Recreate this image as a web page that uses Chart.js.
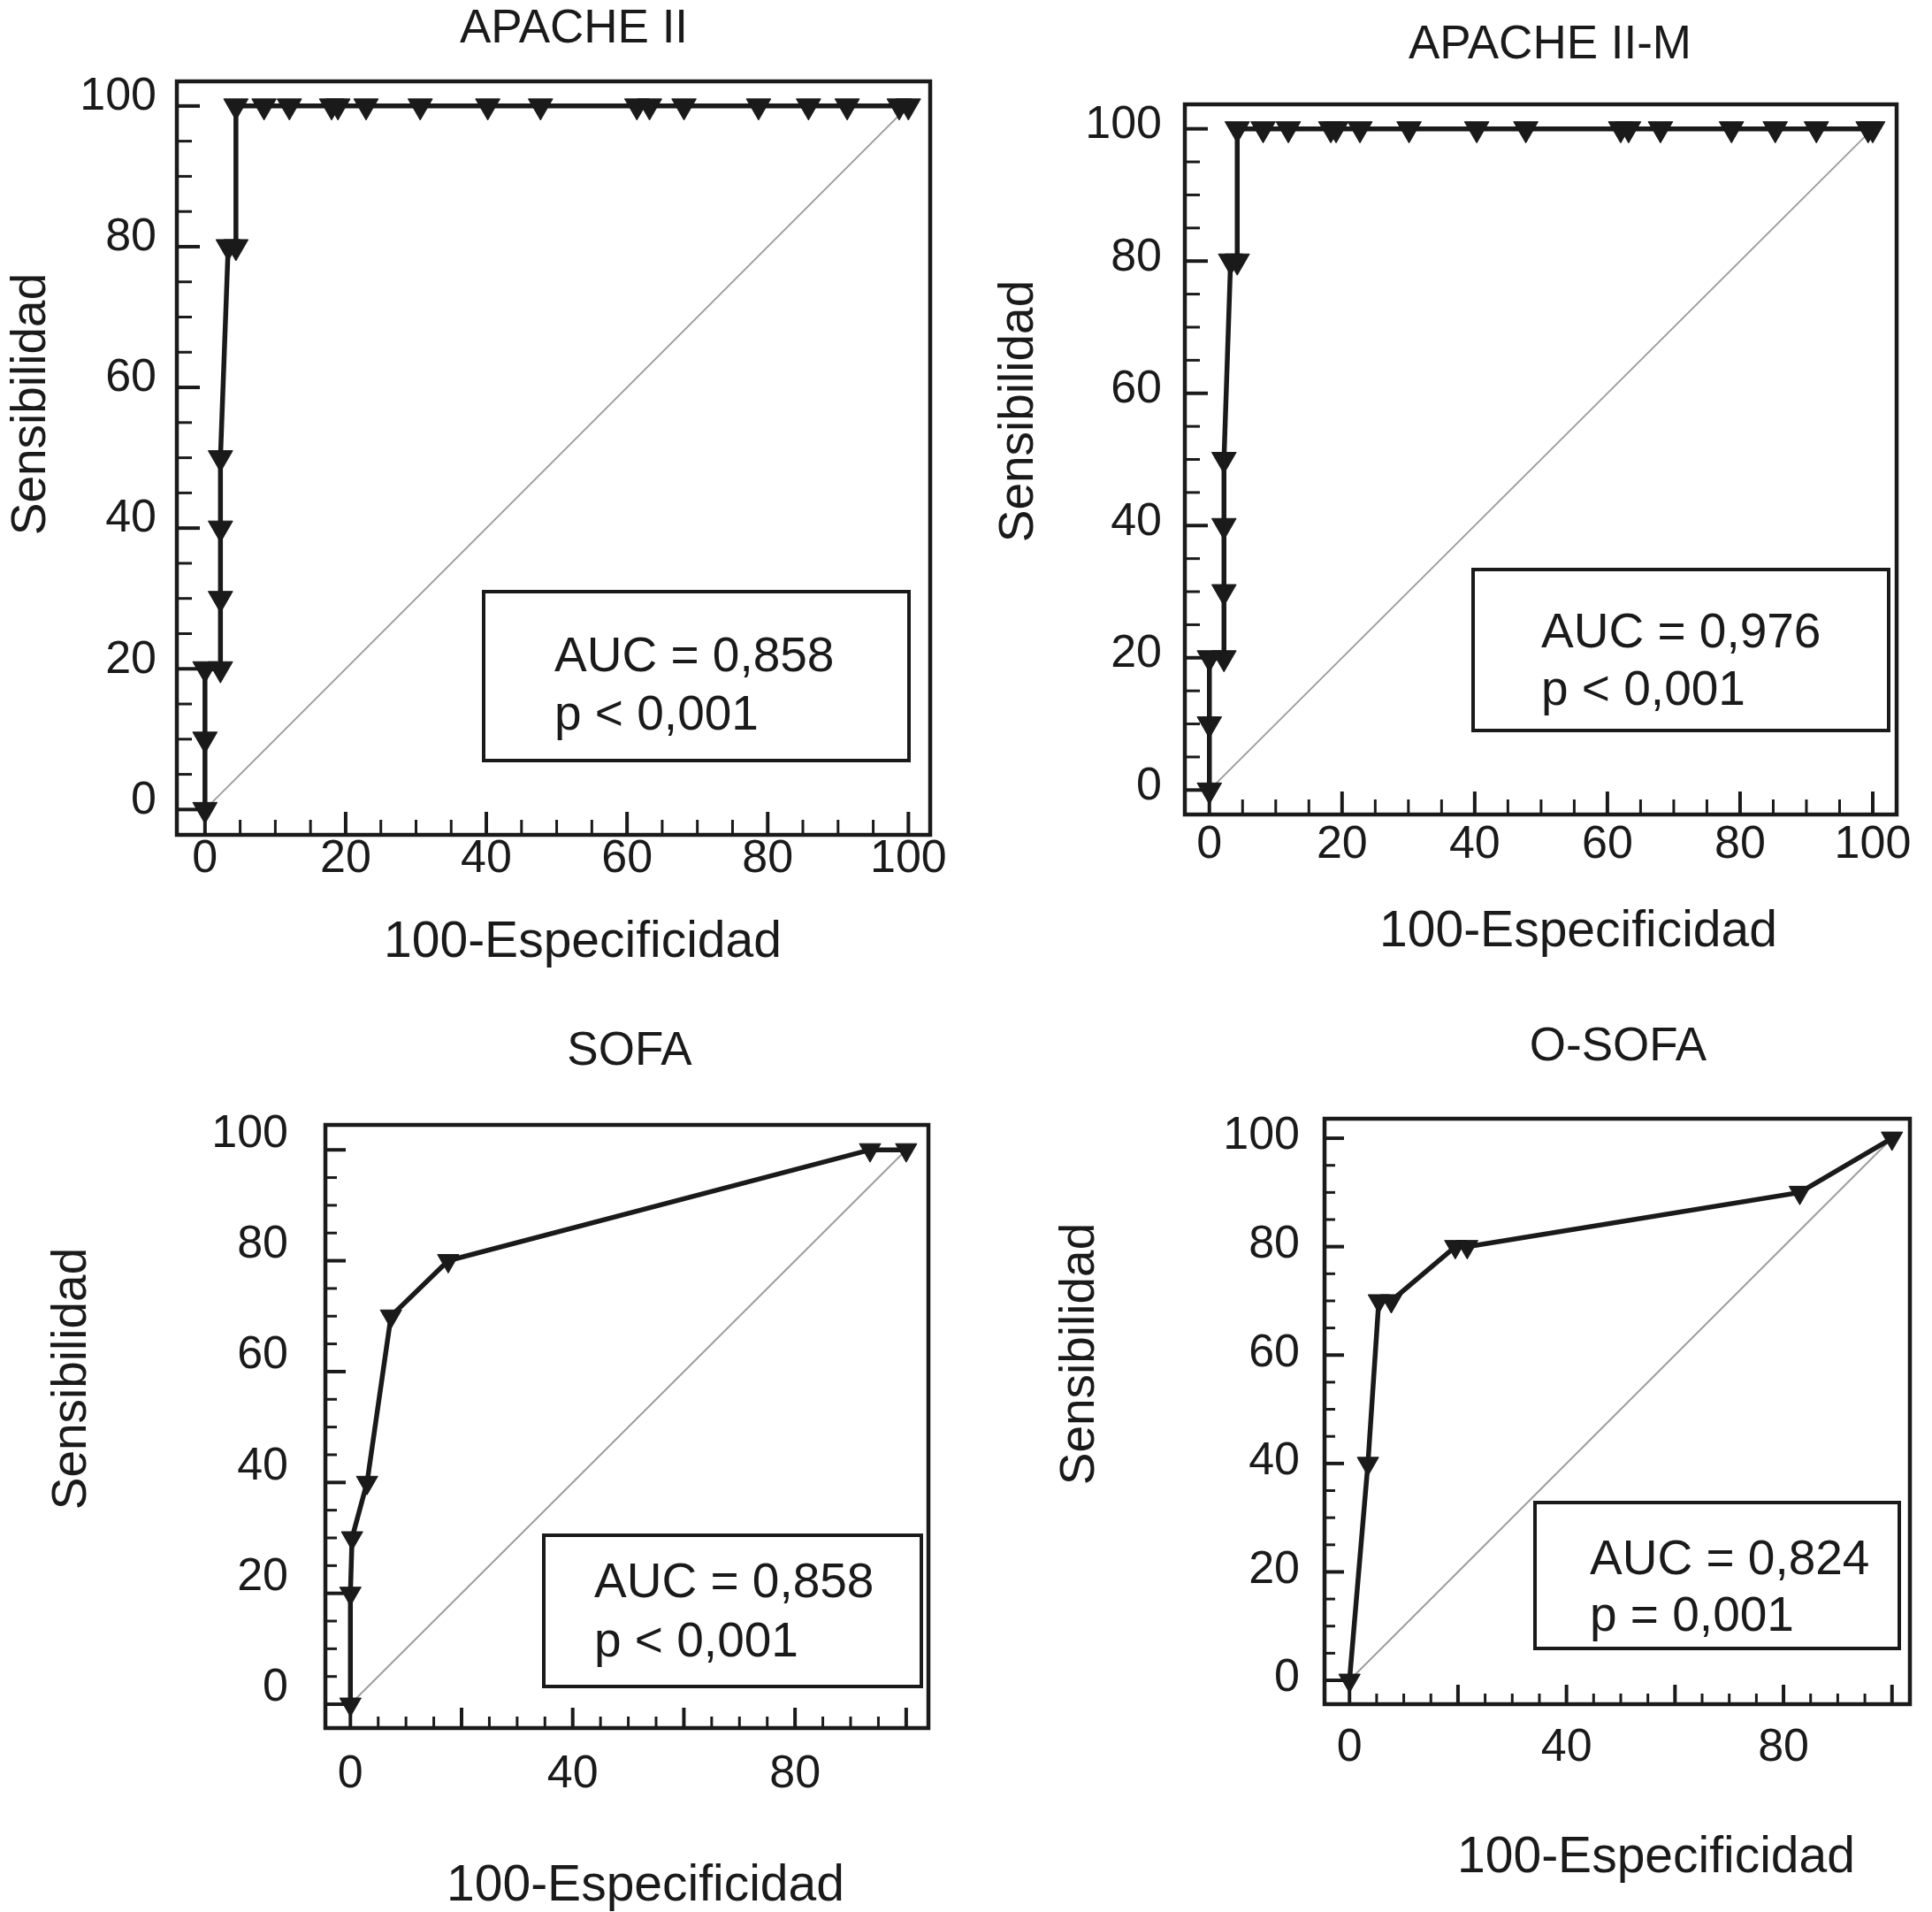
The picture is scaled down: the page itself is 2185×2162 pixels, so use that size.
<!DOCTYPE html>
<html>
<head>
<meta charset="utf-8">
<script src="https://cdn.jsdelivr.net/npm/chart.js@4.4.1/dist/chart.umd.min.js"></script>
<style>
  html, body { margin: 0; padding: 0; background: #fff; overflow: hidden; }
  body { width: 2185px; height: 2162px; position: relative; }
  canvas { position: absolute; }
</style>
</head>
<body>
<canvas id="apache"></canvas>
<canvas id="apacheM"></canvas>
<canvas id="sofa"></canvas>
<canvas id="osofa"></canvas>
<script>
// ---- data ----
const apacheX  = [0, 0, 0, 2.2, 2.2, 2.2, 2.2, 3.3, 4.4, 4.4, 8.4, 12, 18, 18.9, 22.9, 30.6, 40.2, 47.7, 61.4, 63.2, 68.1, 78.7, 85.8, 91.3, 98.7, 100];
const apacheY  = [0, 10, 20, 20, 30, 40, 50, 80, 80, 100, 100, 100, 100, 100, 100, 100, 100, 100, 100, 100, 100, 100, 100, 100, 100, 100];
const apacheMX = [0, 0, 0, 2.2, 2.2, 2.2, 2.2, 3.2, 4.2, 4.2, 8.1, 11.9, 18.3, 19.1, 22.7, 30.1, 40.3, 47.7, 62, 63.2, 68, 78.7, 85.3, 91.5, 99.3, 100];
const apacheMY = [0, 10, 20, 20, 30, 40, 50, 80, 80, 100, 100, 100, 100, 100, 100, 100, 100, 100, 100, 100, 100, 100, 100, 100, 100, 100];
const sofaX  = [0, 0, 0.3, 3, 7.3, 17.6, 93.5, 100];
const sofaY  = [0, 20, 30, 40, 70, 80, 100, 100];
const osofaX = [0, 3.4, 5.4, 7.7, 19.5, 21.7, 83, 100];
const osofaY = [0, 40, 70, 70, 80, 80, 90, 100];
const chanceLine = [0, 100];

const yTicks = [0, 20, 40, 60, 80, 100];
const xTicksFull = [0, 20, 40, 60, 80, 100];
const xTicksSparse = [0, 40, 80];

const titles = ['APACHE II', 'APACHE II-M', 'SOFA', 'O-SOFA'];
const aucLines = ['AUC = 0,858', 'AUC = 0,976', 'AUC = 0,858', 'AUC = 0,824'];
const pLines = ['p < 0,001', 'p < 0,001', 'p < 0,001', 'p = 0,001'];
const xTitle = '100-Especificidad';
const yTitle = 'Sensibilidad';

const ink = '#1a1a1a';
const FONT = "'Liberation Sans', Arial, Helvetica, sans-serif";

// layout of each panel in page pixels
const panels = [
  { id: 'apache', xs: apacheX, ys: apacheY, xt: xTicksFull,
    box: [0, 0, 1092, 1100], frame: [200, 92, 1052, 944], xr: [-4.0, 103.1], yr: [-3.6, 103.5],
    yPad: 23, xPad: 2, yOff: -10, tick: [26, 17], r: 16,
    title: [649, 29], yt: [31, 457], xtt: [659, 1062],
    auc: [547, 669, 1028, 860], txt: [627, 759, 825] },
  { id: 'apacheM', xs: apacheMX, ys: apacheMY, xt: xTicksFull,
    box: [1092, 0, 1093, 1100], frame: [1340, 118, 2145, 921], xr: [-3.7, 103.6], yr: [-3.7, 103.7],
    yPad: 26, xPad: 9, yOff: -4, tick: [26, 17], r: 16,
    title: [1753, 47], yt: [1148, 465], xtt: [1785, 1050],
    auc: [1666, 644, 2136, 826], txt: [1743, 732, 797] },
  { id: 'sofa', xs: sofaX, ys: sofaY, xt: xTicksSparse,
    box: [0, 1100, 1092, 1062], frame: [368, 1272, 1050, 1954], xr: [-4.5, 104], yr: [-4.3, 104.5],
    yPad: 42, xPad: 27, yOff: -18, tick: [23, 13], r: 14,
    title: [712, 1185], yt: [77, 1559], xtt: [730, 2129],
    auc: [615, 1736, 1042, 1907], txt: [672, 1806, 1873] },
  { id: 'osofa', xs: osofaX, ys: osofaY, xt: xTicksSparse,
    box: [1092, 1100, 1093, 1062], frame: [1498, 1265, 2160, 1927], xr: [-4.6, 103.3], yr: [-4.4, 103.6],
    yPad: 28, xPad: 24, yOff: -2, tick: [22, 12], r: 14,
    title: [1830, 1180], yt: [1217, 1531], xtt: [1873, 2097],
    auc: [1736, 1699, 2148, 1864], txt: [1798, 1780, 1844] }
];

function line(ctx, x1, y1, x2, y2) {
  ctx.beginPath();
  ctx.moveTo(x1, y1);
  ctx.lineTo(x2, y2);
  ctx.stroke();
}

function makePanel(p, i) {
  const [cl, ct, cw, ch] = p.box;
  const [fl, ft, fr, fb] = p.frame;
  const canvas = document.getElementById(p.id);
  canvas.width = cw;
  canvas.height = ch;
  canvas.style.left = cl + 'px';
  canvas.style.top = ct + 'px';

  const curve = p.xs.map((x, k) => ({ x: x, y: p.ys[k] }));
  const diag = chanceLine.map(v => ({ x: v, y: v }));

  // frame, inward ticks, titles and the AUC box
  const decor = {
    id: 'decor' + i,
    beforeDatasetsDraw(chart) {
      const { ctx, chartArea: a, scales: { x, y } } = chart;
      ctx.save();
      ctx.strokeStyle = ink;
      for (let v = 0; v <= 100; v += 5) {
        const major = v % 20 === 0;
        const len = major ? p.tick[0] : p.tick[1];
        ctx.lineWidth = major ? 4 : 3;
        const px = x.getPixelForValue(v);
        line(ctx, px, a.bottom, px, a.bottom - len);
        const py = y.getPixelForValue(v);
        line(ctx, a.left, py, a.left + len, py);
      }
      ctx.lineWidth = 4.5;
      ctx.strokeRect(a.left, a.top, a.width, a.height);
      ctx.restore();
    },
    afterDraw(chart) {
      const ctx = chart.ctx;
      ctx.save();
      ctx.fillStyle = ink;
      ctx.strokeStyle = ink;
      ctx.textBaseline = 'alphabetic';

      ctx.textAlign = 'center';
      ctx.font = '53px ' + FONT;
      ctx.fillText(titles[i], p.title[0] - cl, p.title[1] - ct + 19);

      ctx.font = '57px ' + FONT;
      ctx.fillText(xTitle, p.xtt[0] - cl, p.xtt[1] - ct + 20);

      ctx.save();
      ctx.font = '55px ' + FONT;
      ctx.translate(p.yt[0] - cl + 20, p.yt[1] - ct);
      ctx.rotate(-Math.PI / 2);
      ctx.fillText(yTitle, 0, 0);
      ctx.restore();

      const [bl, bt, br, bb] = p.auc;
      ctx.lineWidth = 4;
      ctx.strokeRect(bl - cl, bt - ct, br - bl, bb - bt);
      ctx.textAlign = 'left';
      ctx.font = '55px ' + FONT;
      ctx.fillText(aucLines[i], p.txt[0] - cl, p.txt[1] - ct);
      ctx.fillText(pLines[i], p.txt[0] - cl, p.txt[2] - ct);
      ctx.restore();
    }
  };

  const tickFont = { family: FONT, size: 52, lineHeight: 1 };

  new Chart(canvas.getContext('2d'), {
    type: 'scatter',
    data: {
      datasets: [
        {
          data: curve,
          showLine: true,
          borderColor: ink,
          borderWidth: 5.5,
          backgroundColor: ink,
          pointStyle: 'triangle',
          rotation: 180,
          pointRadius: p.r,
          pointBorderWidth: 1,
          pointBorderColor: ink,
          pointBackgroundColor: ink,
          clip: false
        },
        {
          data: diag,
          showLine: true,
          borderColor: '#9e9e9e',
          borderWidth: 2,
          pointRadius: 0
        }
      ]
    },
    options: {
      responsive: false,
      animation: false,
      events: [],
      layout: { padding: { left: 0, top: ft - ct, right: cl + cw - fr, bottom: 0 } },
      plugins: { legend: { display: false }, tooltip: { enabled: false } },
      scales: {
        x: {
          type: 'linear',
          min: p.xr[0], max: p.xr[1],
          grid: { display: false, drawTicks: false },
          border: { display: false },
          afterBuildTicks: s => { s.ticks = p.xt.map(v => ({ value: v })); },
          afterFit: s => { s.height = ct + ch - fb; },
          ticks: { font: tickFont, color: ink, padding: p.xPad, maxRotation: 0, autoSkip: false }
        },
        y: {
          type: 'linear',
          min: p.yr[0], max: p.yr[1],
          grid: { display: false, drawTicks: false },
          border: { display: false },
          afterBuildTicks: s => { s.ticks = yTicks.map(v => ({ value: v })); },
          afterFit: s => { s.width = fl - cl; },
          ticks: { font: tickFont, color: ink, padding: p.yPad, labelOffset: p.yOff, autoSkip: false }
        }
      }
    },
    plugins: [decor]
  });
}

panels.forEach(makePanel);
</script>
</body>
</html>
